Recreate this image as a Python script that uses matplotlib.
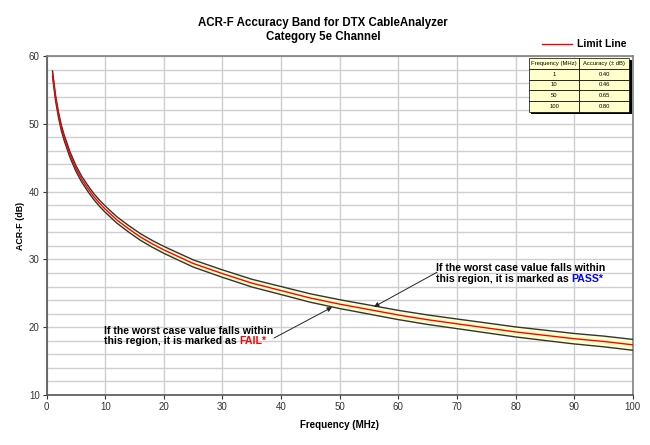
"""
ACR-F accuracy band (DTX CableAnalyzer, Cat 5e channel).
Limit line with +/- accuracy band, plus small accuracy table.
"""
import matplotlib
matplotlib.use("Agg")
import matplotlib.pyplot as plt
from matplotlib.patches import Rectangle
import numpy as np

plt.rcParams["font.family"] = ["Liberation Sans", "DejaVu Sans"]

# ── data ──────────────────────────────────────────────────
freq_mhz = [1, 1.5, 2, 2.5, 3, 4, 5, 6, 7, 8, 9, 10, 12, 14, 16, 18, 20,
            25, 30, 35, 40, 45, 50, 55, 60, 65, 70, 75, 80, 85, 90, 95, 100]
limit_db = [57.4, 53.9, 51.4, 49.4, 47.9, 45.4, 43.4, 41.8, 40.5, 39.3, 38.3,
            37.4, 35.8, 34.5, 33.3, 32.3, 31.4, 29.4, 27.9, 26.5, 25.4, 24.3,
            23.4, 22.6, 21.8, 21.1, 20.5, 19.9, 19.3, 18.8, 18.3, 17.9, 17.4]
accuracy_db = [0.40, 0.40, 0.41, 0.41, 0.41, 0.42, 0.42, 0.43, 0.44, 0.44,
               0.45, 0.46, 0.47, 0.48, 0.49, 0.50, 0.51, 0.53, 0.55, 0.57,
               0.59, 0.62, 0.65, 0.67, 0.68, 0.70, 0.71, 0.73, 0.74, 0.76,
               0.77, 0.79, 0.80]

table_freq = ["1", "10", "50", "100"]
table_acc = ["0.40", "0.46", "0.65", "0.80"]
table_cols = ["Frequency (MHz)", "Accuracy (\u00b1 dB)"]

f = np.array(freq_mhz)
lim = np.array(limit_db)
acc = np.array(accuracy_db)
upper = lim + acc
lower = lim - acc

# ── figure ───────────────────────────────────────────────
fig = plt.figure(figsize=(6.5, 4.45), dpi=100)
ax = fig.add_axes([0.0718, 0.1124, 0.9016, 0.7618])

ax.fill_between(f, lower, upper, color="#FFFFCC", zorder=2, lw=0)
ax.plot(f, upper, color="#333333", lw=1.0, zorder=3)
ax.plot(f, lower, color="#333333", lw=1.0, zorder=3)
ax.plot(f, lim, color="#FF0000", lw=1.0, zorder=4)

ax.set_xlim(0, 100)
ax.set_ylim(10, 60)
ax.set_xticks(np.arange(0, 101, 10))
ax.set_yticks(np.arange(10, 61, 10))
ax.set_yticks(np.arange(10, 61, 2), minor=True)
ax.tick_params(axis="both", which="major", direction="out", length=3,
               width=0.8, labelsize=7, colors="#333333", pad=2)
ax.tick_params(axis="y", which="minor", length=0)
ax.grid(True, which="both", axis="y", color="#CFCFCF", lw=1.0, zorder=0)
ax.grid(True, which="major", axis="x", color="#CFCFCF", lw=1.0, zorder=0)
ax.set_axisbelow(True)
for side in ["left", "bottom"]:
    ax.spines[side].set_color("#555555")
    ax.spines[side].set_linewidth(1.2)
for side in ["top", "right"]:
    ax.spines[side].set_color("#808080")
    ax.spines[side].set_linewidth(1.2)

ax.set_xlabel("Frequency (MHz)", fontsize=7, fontweight="bold", labelpad=6)
ax.set_ylabel("ACR-F (dB)", fontsize=6.4, fontweight="bold", labelpad=3)

fig.text(0.497, 0.948, "ACR-F Accuracy Band for DTX CableAnalyzer",
         ha="center", va="center", fontsize=8.3, fontweight="bold")
fig.text(0.497, 0.917, "Category 5e Channel",
         ha="center", va="center", fontsize=8.3, fontweight="bold")

# legend (above the plot, top right)
ax.plot([0.845, 0.897], [1.035, 1.035], transform=ax.transAxes, color="#FF0000",
        lw=1.0, clip_on=False)
ax.text(0.905, 1.035, "Limit Line", transform=ax.transAxes, fontsize=7.5,
        fontweight="bold", va="center", ha="left")

# ── annotations ──────────────────────────────────────────
fs_note = 7.6
tp1 = ax.text(66.4, 28.8, "If the worst case value falls within",
              fontsize=fs_note, fontweight="bold", va="center", ha="left")
tp2 = ax.text(66.4, 27.05, "this region, it is marked as ",
              fontsize=fs_note, fontweight="bold", va="center", ha="left")
ax.annotate("PASS*", xy=(1, 0.5), xycoords=tp2, va="center", ha="left",
            fontsize=fs_note, fontweight="bold", color="#0000FF")
ax.annotate("", xy=(55.85, 23.0), xytext=(66.6, 28.1),
            arrowprops=dict(arrowstyle="-|>", color="#222222", lw=0.7,
                            mutation_scale=7, shrinkA=0, shrinkB=0))

tf1 = ax.text(9.8, 19.5, "If the worst case value falls within",
              fontsize=fs_note, fontweight="bold", va="center", ha="left")
tf2 = ax.text(9.8, 17.9, "this region, it is marked as ",
              fontsize=fs_note, fontweight="bold", va="center", ha="left")
ax.annotate("FAIL*", xy=(1, 0.5), xycoords=tf2, va="center", ha="left",
            fontsize=fs_note, fontweight="bold", color="#FF0000")
ax.annotate("", xy=(48.7, 22.95), xytext=(38.8, 18.4),
            arrowprops=dict(arrowstyle="-|>", color="#222222", lw=0.7,
                            mutation_scale=7, shrinkA=0, shrinkB=0))

# ── accuracy table ───────────────────────────────────────
bbox = [0.823, 0.835, 0.171, 0.159]
shadow = Rectangle((bbox[0] + 0.004, bbox[1] - 0.006), bbox[2], bbox[3],
                   transform=ax.transAxes, facecolor="#000000", lw=0,
                   zorder=9, clip_on=False)
ax.add_patch(shadow)
tbl = ax.table(cellText=[[a, b] for a, b in zip(table_freq, table_acc)],
               colLabels=table_cols, cellLoc="center", bbox=bbox, zorder=10)
tbl.auto_set_font_size(False)
for (r, c), cell in tbl.get_celld().items():
    cell.set_facecolor("#FFFFCC")
    cell.set_edgecolor("#000000")
    cell.set_linewidth(0.5)
    cell.get_text().set_fontsize(4.2)

fig.savefig("out.png", dpi=100)
